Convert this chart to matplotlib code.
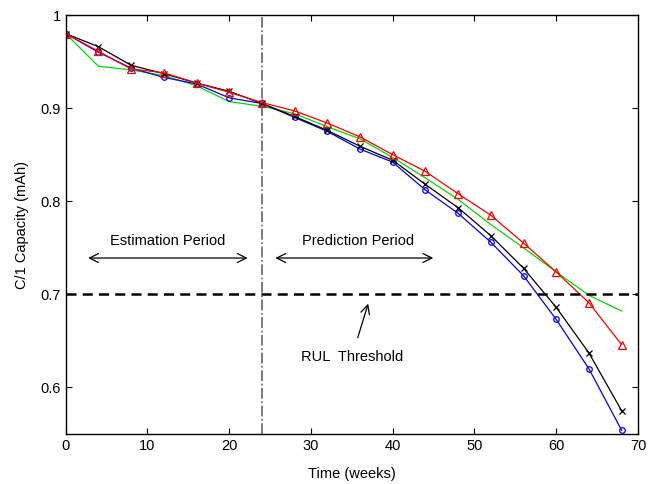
import numpy as np
import matplotlib.pyplot as plt

plt.rcParams['font.family'] = ['Liberation Sans', 'DejaVu Sans']

# Time in weeks
weeks = [0, 4, 8, 12, 16, 20, 24, 28, 32, 36, 40, 44, 48, 52, 56, 60, 64, 68]

# Capacity curves
cap_blue = [0.980, 0.960, 0.943, 0.933, 0.926, 0.911, 0.905, 0.890, 0.875,
            0.856, 0.842, 0.812, 0.787, 0.756, 0.720, 0.673, 0.620, 0.554]
cap_black = [0.980, 0.966, 0.946, 0.937, 0.927, 0.918, 0.905, 0.891, 0.876,
             0.859, 0.844, 0.818, 0.793, 0.763, 0.728, 0.686, 0.637, 0.575]
cap_red = [0.980, 0.961, 0.942, 0.938, 0.927, 0.917, 0.906, 0.897, 0.884,
           0.869, 0.850, 0.832, 0.808, 0.785, 0.755, 0.724, 0.691, 0.646]
cap_green = [0.980, 0.945, 0.941, 0.935, 0.924, 0.907, 0.902, 0.894, 0.880,
             0.867, 0.847, 0.825, 0.802, 0.775, 0.750, 0.724, 0.699, 0.682]

threshold = 0.7
split_week = 24

fig = plt.figure(figsize=(6.61, 4.84), dpi=100)
ax = fig.add_axes([0.0994, 0.1033, 0.8658, 0.8657])

ax.plot(weeks, cap_green, color='#00dd00', lw=0.9)
ax.plot(weeks, cap_blue, color='blue', lw=0.9, marker='o', ms=4,
        mfc='none', mew=0.9)
ax.plot(weeks, cap_black, color='black', lw=0.9, marker='x', ms=4, mew=0.9)
ax.plot(weeks, cap_red, color='red', lw=0.9, marker='^', ms=6,
        mfc='none', mew=0.9)

ax.axhline(threshold, color='black', ls=(0, (4, 2.5)), lw=1.8)
ax.axvline(split_week, color='#666666', ls='-.', lw=1.2)

# Period arrows and labels
arrow = dict(arrowstyle='<->', color='black', lw=0.9, mutation_scale=16)
ax.annotate('', xy=(2.4, 0.739), xytext=(22.6, 0.739), arrowprops=arrow)
ax.annotate('', xy=(25.3, 0.739), xytext=(45.3, 0.739), arrowprops=arrow)
ax.text(12.5, 0.7575, 'Estimation Period', ha='center', va='center', fontsize=10.5)
ax.text(35.8, 0.7575, 'Prediction Period', ha='center', va='center', fontsize=10.5)
ax.annotate('RUL  Threshold', xy=(37.0, 0.690), xytext=(35.0, 0.633),
            ha='center', va='center', fontsize=10.5,
            arrowprops=dict(arrowstyle='->', color='black', lw=0.9,
                            mutation_scale=16, shrinkA=7, shrinkB=0))

ax.set_xlim(0, 70)
ax.set_ylim(0.55, 1.0)
ax.set_xticks(range(0, 71, 10))
ax.set_yticks([0.6, 0.7, 0.8, 0.9, 1.0])
ax.set_yticklabels(['0.6', '0.7', '0.8', '0.9', '1'])
ax.tick_params(direction='in', top=True, right=True, labelsize=10.5, length=4)
for s in ax.spines.values():
    s.set_linewidth(1.0)

ax.set_xlabel('Time (weeks)', fontsize=10.5, labelpad=10)
ax.set_ylabel('C/1 Capacity (mAh)', fontsize=10.5, labelpad=8)

fig.savefig('out.png', dpi=100)
